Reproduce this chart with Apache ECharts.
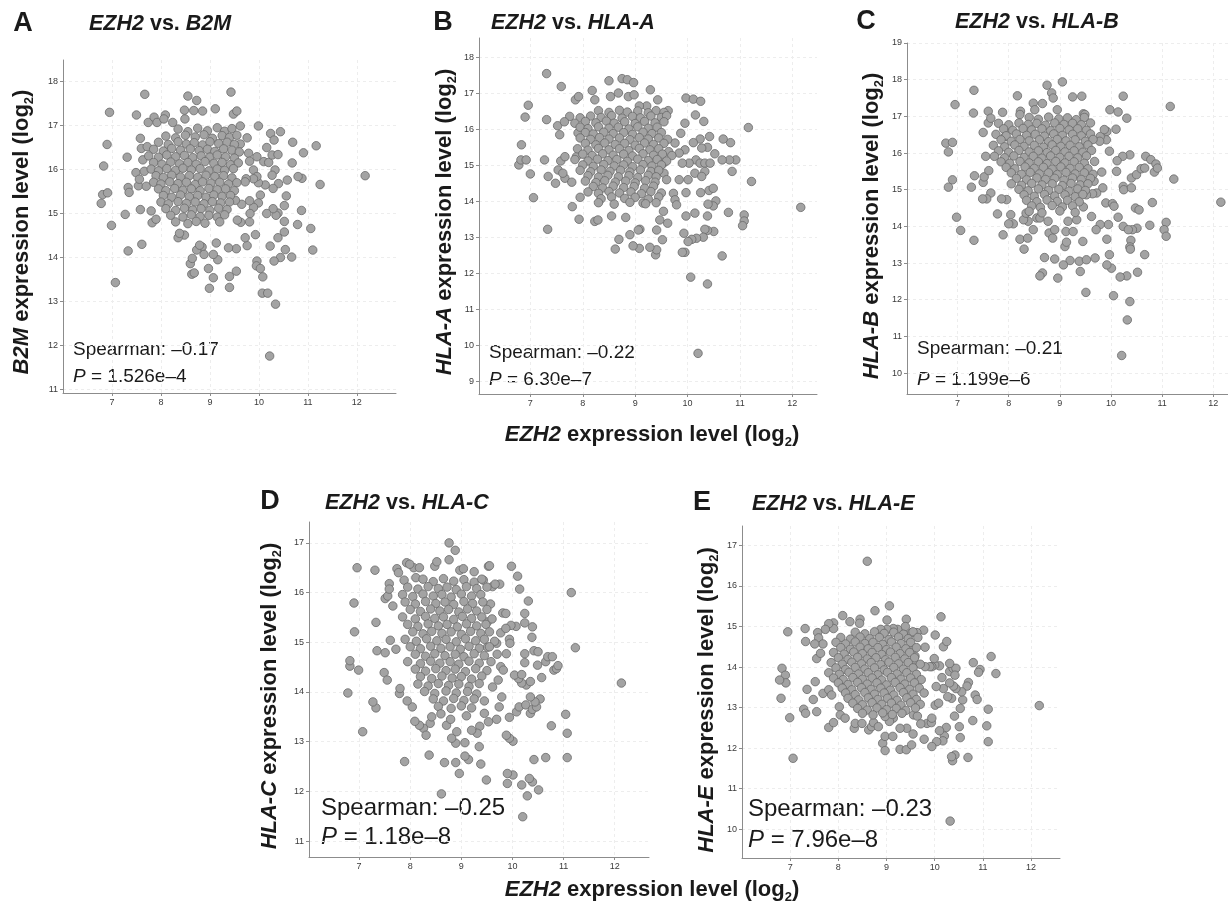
<!DOCTYPE html>
<html>
<head>
<meta charset="utf-8">
<title>EZH2 vs. MHC class I genes</title>
<script src="https://cdn.jsdelivr.net/npm/echarts@6.0.0/dist/echarts.min.js"></script>
<style>
  html, body { margin: 0; padding: 0; background: #fff; }
  #chart { width: 1228px; height: 906px; }
</style>
</head>
<body>
<div id="chart"></div>
<script>
// shared x ticks (EZH2 expression, log2)
const ezh2Ticks = [7, 8, 9, 10, 11, 12];
const panelLetters = ['A', 'B', 'C', 'D', 'E'];
const genes = ['B2M', 'HLA-A', 'HLA-B', 'HLA-C', 'HLA-E'];
const spearman = ['–0.17', '–0.22', '–0.21', '–0.25', '–0.23'];
const pValues = ['1.526e–4', '6.30e–7', '1.199e–6', '1.18e–8', '7.96e–8'];
const yTicksA = [11, 12, 13, 14, 15, 16, 17, 18];
const yTicksB = [9, 10, 11, 12, 13, 14, 15, 16, 17, 18];
const yTicksC = [10, 11, 12, 13, 14, 15, 16, 17, 18, 19];
const yTicksD = [11, 12, 13, 14, 15, 16, 17];
const yTicksE = [10, 11, 12, 13, 14, 15, 16, 17];

// [EZH2, gene] pairs
const b2m = [
  [12.17,15.86],[11.25,15.66],[11.17,16.54],[10.91,16.38],[10.69,16.62],[10.68,16.15],[10.88,15.80],[10.80,15.84],[10.87,15.07],[10.79,14.75],
  [11.06,14.66],[11.10,14.17],[10.67,14.01],[10.44,16.86],[10.24,16.82],[10.31,16.67],[9.99,16.99],[10.58,15.76],[10.56,15.40],[10.52,15.18],
  [10.52,14.82],[10.52,14.58],[10.54,14.18],[10.39,14.45],[10.44,14.00],[10.31,13.92],[10.39,15.01],[10.35,14.96],[10.29,15.11],[10.16,15.00],
  [10.23,14.26],[9.96,13.92],[9.95,13.81],[10.03,13.75],[10.08,13.56],[10.07,13.19],[10.18,13.19],[10.34,12.94],[10.22,11.76],[9.93,14.52],
  [9.81,14.81],[9.76,14.27],[9.72,14.45],[9.63,14.80],[9.54,14.20],[9.38,14.22],[9.54,13.69],[9.40,13.57],[9.40,13.32],[9.07,13.54],
  [8.99,13.30],[8.97,13.75],[9.16,13.95],[9.07,14.07],[9.13,14.33],[8.84,14.24],[8.88,14.07],[8.63,13.62],[8.68,13.65],[8.60,13.86],
  [8.64,13.98],[8.73,14.17],[8.79,14.28],[8.48,14.51],[8.35,14.45],[8.38,14.55],[7.82,14.79],[7.90,14.87],[7.80,15.06],[7.58,15.09],
  [7.61,14.30],[7.33,14.15],[7.27,14.98],[6.99,14.73],[7.07,13.43],[6.78,15.23],[6.81,15.43],[6.91,15.47],[6.83,16.08],[6.90,16.57],
  [6.95,17.30],[7.33,15.59],[7.35,15.48],[7.31,16.28],[7.50,17.24],[7.49,15.93],[7.54,15.63],[7.58,16.71],[7.67,17.71],[7.74,17.07],
  [7.86,17.19],[7.92,17.07],[8.09,17.24],[8.06,17.15],[8.24,17.07],[8.48,17.35],[8.49,17.15],[8.55,17.67],[8.67,17.34],[8.73,17.57],
  [8.85,17.33],[9.11,17.38],[9.43,17.76],[9.48,17.26],[9.55,17.33],[9.62,16.99],[9.76,16.72],[9.62,16.58],[9.79,16.37],[9.81,16.19],
  [9.96,16.29],[9.89,15.99],[10.10,16.18],[10.20,16.16],[10.16,16.50],[10.27,16.33],[10.39,16.34],[10.33,15.99],[10.27,15.87],[10.40,15.68],
  [10.29,15.57],[10.13,15.65],[9.99,15.70],[10.03,15.42],[9.99,15.24],[9.89,15.14],[9.96,15.84],[9.89,15.79],[9.74,15.79],[9.72,15.72],
  [9.81,15.29],[9.82,15.00],[9.65,15.21],[9.52,15.30],[9.56,14.85],[7.60,16.48],[7.63,16.22],[7.66,15.96],[7.56,15.78],[7.72,16.52],[7.70,15.62],
  [8.35,16.92],[8.55,16.86],[8.75,16.94],[8.95,16.88],[9.15,16.95],[9.30,16.87],[9.45,16.93],
  [8.10,16.76],[8.30,16.72],[8.50,16.78],[8.70,16.74],[8.88,16.79],[9.05,16.71],[9.25,16.77],[9.40,16.73],[9.55,16.78],
  [7.95,16.62],[8.15,16.57],[8.35,16.63],[8.52,16.58],[8.68,16.61],[8.85,16.56],[9.00,16.63],[9.18,16.59],[9.35,16.62],[9.50,16.57],
  [7.85,16.46],[8.05,16.42],[8.22,16.48],[8.40,16.44],[8.60,16.47],[8.78,16.43],[8.95,16.46],[9.10,16.41],[9.28,16.47],[9.45,16.44],[9.60,16.40],
  [7.75,16.31],[7.95,16.28],[8.12,16.33],[8.30,16.29],[8.48,16.32],[8.65,16.27],[8.82,16.31],[9.00,16.28],[9.15,16.33],[9.32,16.29],[9.50,16.26],
  [7.85,16.16],[8.02,16.12],[8.20,16.17],[8.38,16.13],[8.55,16.16],[8.72,16.12],[8.90,16.18],[9.08,16.14],[9.25,16.16],[9.42,16.11],[9.58,16.15],
  [7.80,16.01],[7.95,15.97],[8.12,16.02],[8.30,15.98],[8.45,16.03],[8.62,15.99],[8.80,16.02],[8.98,15.97],[9.15,16.01],[9.30,15.98],[9.48,16.02],
  [7.90,15.86],[8.05,15.82],[8.22,15.87],[8.40,15.83],[8.58,15.86],[8.75,15.82],[8.92,15.87],[9.10,15.84],[9.28,15.86],[9.45,15.81],
  [7.85,15.71],[8.00,15.67],[8.18,15.72],[8.35,15.68],[8.52,15.71],[8.70,15.66],[8.85,15.72],[9.02,15.69],[9.20,15.71],[9.38,15.67],[9.55,15.70],
  [7.95,15.56],[8.10,15.52],[8.28,15.57],[8.45,15.53],[8.62,15.56],[8.80,15.52],[8.98,15.57],[9.15,15.54],[9.32,15.56],[9.50,15.52],
  [8.05,15.41],[8.22,15.37],[8.40,15.42],[8.58,15.38],[8.75,15.41],[8.92,15.37],[9.08,15.42],[9.25,15.39],[9.42,15.41],
  [8.00,15.26],[8.15,15.22],[8.35,15.27],[8.52,15.23],[8.70,15.26],[8.88,15.22],[9.05,15.27],[9.22,15.24],[9.40,15.26],
  [8.10,15.11],[8.30,15.07],[8.48,15.12],[8.65,15.08],[8.82,15.11],[9.00,15.07],[9.18,15.12],[9.35,15.09],
  [8.20,14.96],[8.45,14.92],[8.62,14.97],[8.80,14.93],[8.98,14.96],[9.15,14.92],[9.30,14.97],
  [8.30,14.81],[8.55,14.77],[8.72,14.82],[8.90,14.78],[9.20,14.81]
];

const hlaA = [
  [12.16,13.83],[11.16,16.05],[11.22,14.55],[11.08,13.62],[11.08,13.45],[11.05,13.32],[10.92,15.15],[10.85,14.83],[10.80,15.15],[10.82,15.63],
  [10.68,15.73],[10.66,15.15],[10.52,15.32],[10.78,13.69],[10.66,12.48],[10.54,14.01],[10.49,13.87],[10.50,13.16],[10.38,13.19],[10.33,13.22],
  [10.38,13.59],[10.39,13.92],[10.41,14.30],[10.49,14.36],[10.25,14.24],[10.30,13.00],[10.17,12.97],[10.08,12.94],[10.01,12.88],[9.95,12.58],
  [9.90,12.58],[10.06,11.89],[10.38,11.70],[10.20,9.77],[10.14,13.67],[9.97,13.59],[9.93,13.11],[9.97,14.24],[10.01,14.60],[9.84,14.60],
  [9.73,14.22],[9.76,14.04],[9.79,13.90],[9.62,13.39],[9.52,12.93],[9.54,13.72],[9.47,13.48],[9.41,13.20],[9.39,12.51],[9.41,12.65],
  [9.28,12.72],[9.09,13.22],[9.06,13.20],[9.15,13.95],[9.08,12.69],[8.96,12.76],[8.90,13.07],[8.69,12.94],[8.62,12.67],[8.82,13.55],
  [8.55,13.59],[8.23,13.44],[8.29,13.48],[7.93,13.50],[7.80,13.85],[7.33,13.22],[7.06,14.10],[7.00,14.76],[6.78,15.01],[6.82,15.15],
  [6.92,15.15],[6.83,15.57],[6.90,16.34],[6.96,16.67],[7.27,15.15],[7.34,14.69],[7.31,16.27],[7.31,17.55],[7.59,17.19],[7.48,14.50],
  [7.53,14.87],[7.58,15.12],[7.66,15.24],[7.56,15.85],[7.52,16.10],[7.66,14.64],[7.62,14.78],[7.79,14.53],[7.91,15.90],[7.88,15.24],
  [7.86,16.82],[7.92,16.91],[8.18,17.08],[8.23,16.82],[8.50,17.35],[8.53,16.91],[8.68,17.01],[8.75,17.41],[8.85,17.38],[8.97,17.30],
  [8.87,16.91],[8.98,16.96],[9.29,17.10],[9.43,16.82],[9.22,16.65],[9.08,16.65],[9.63,16.52],[9.97,16.87],[10.11,16.84],[10.25,16.78],
  [10.15,16.40],[10.31,16.22],[9.95,16.17],[10.24,15.73],[10.42,15.80],[10.38,15.50],[10.27,15.48],[10.11,15.63],[9.95,15.43],[10.16,15.15],
  [10.24,15.06],[10.33,15.06],[10.43,15.06],[10.14,14.78],[10.33,14.83],[10.27,14.69],[10.03,15.06],[9.90,15.06],[9.84,15.34],[9.76,15.62],
  [9.87,15.89],[9.64,15.38],[9.54,15.06],[9.55,14.78],[9.60,14.60],
  [8.30,16.52],[8.50,16.47],[8.70,16.53],[8.85,16.48],[9.05,16.51],[9.25,16.46],[9.40,16.52],[9.55,16.47],
  [7.75,16.36],[7.95,16.32],[8.15,16.37],[8.35,16.33],[8.55,16.38],[8.75,16.31],[8.95,16.36],[9.10,16.32],[9.30,16.37],[9.50,16.33],[9.60,16.38],
  [7.65,16.21],[7.85,16.17],[8.05,16.22],[8.25,16.18],[8.45,16.23],[8.60,16.17],[8.80,16.21],[9.00,16.16],[9.18,16.22],[9.38,16.18],[9.55,16.21],
  [7.95,16.06],[8.10,16.02],[8.30,16.07],[8.50,16.03],[8.68,16.06],[8.88,16.01],[9.05,16.07],[9.25,16.03],[9.42,16.06],
  [8.05,15.91],[8.20,15.87],[8.40,15.92],[8.58,15.88],[8.78,15.91],[8.95,15.86],[9.15,15.92],[9.32,15.88],[9.50,15.91],
  [7.95,15.76],[8.15,15.72],[8.32,15.77],[8.50,15.73],[8.70,15.76],[8.90,15.71],[9.08,15.77],[9.25,15.73],[9.45,15.76],[9.62,15.72],
  [8.05,15.61],[8.25,15.57],[8.42,15.62],[8.62,15.58],[8.80,15.61],[9.00,15.56],[9.18,15.62],[9.35,15.58],[9.55,15.61],
  [7.90,15.46],[8.10,15.42],[8.30,15.47],[8.50,15.43],[8.70,15.46],[8.88,15.41],[9.08,15.47],[9.28,15.43],[9.45,15.46],
  [8.00,15.31],[8.18,15.27],[8.38,15.32],[8.58,15.28],[8.78,15.31],[8.95,15.26],[9.15,15.32],[9.35,15.28],[9.52,15.31],[9.70,15.27],
  [7.85,15.16],[8.10,15.12],[8.28,15.17],[8.48,15.13],[8.65,15.16],[8.85,15.11],[9.05,15.17],[9.25,15.13],[9.42,15.16],[9.60,15.12],
  [8.00,15.01],[8.20,14.97],[8.40,15.02],[8.60,14.98],[8.78,15.01],[8.95,14.96],[9.15,15.02],[9.32,14.98],[9.50,15.01],
  [7.95,14.86],[8.15,14.82],[8.35,14.87],[8.52,14.83],[8.72,14.86],[8.90,14.81],[9.10,14.87],[9.30,14.83],[9.45,14.86],
  [8.10,14.71],[8.30,14.67],[8.48,14.72],[8.68,14.68],[8.88,14.71],[9.05,14.66],[9.25,14.72],[9.40,14.68],
  [8.05,14.56],[8.25,14.52],[8.42,14.57],[8.62,14.53],[8.82,14.56],[9.00,14.51],[9.20,14.57],[9.38,14.53],
  [8.20,14.41],[8.38,14.37],[8.58,14.42],[8.78,14.38],[8.98,14.41],[9.18,14.36],[9.35,14.42],
  [8.10,14.26],[8.30,14.22],[8.50,14.27],[8.70,14.23],[8.92,14.26],[9.12,14.21],[9.30,14.27],[9.50,14.23],
  [7.95,14.11],[8.35,14.07],[8.55,14.12],[8.80,14.08],[9.00,14.11],[9.25,14.06],[9.45,14.12],
  [8.30,13.96],[8.60,13.92],[8.90,13.97],[9.20,13.93],[9.40,13.96]
];

const hlaB = [
  [12.15,14.66],[11.16,17.27],[11.23,15.29],[11.08,14.11],[11.04,13.91],[11.08,13.73],[10.81,14.65],[10.76,14.03],[10.66,13.23],[10.52,12.75],
  [10.51,13.95],[10.48,14.50],[10.55,14.45],[10.42,13.91],[10.39,13.62],[10.37,13.44],[10.38,13.38],[10.37,11.95],[10.32,11.45],[10.21,10.48],
  [10.31,12.65],[10.18,12.62],[10.05,12.11],[10.01,12.86],[9.92,12.95],[9.97,13.23],[9.92,13.65],[9.95,14.05],[9.79,14.05],[9.71,13.91],
  [9.90,14.64],[10.03,14.62],[10.06,14.55],[10.14,14.25],[10.24,14.00],[10.34,13.91],[10.24,15.09],[10.25,15.00],[10.40,15.05],[10.40,15.32],
  [10.50,15.41],[10.59,15.57],[10.66,15.59],[10.68,15.91],[10.78,15.82],[10.88,15.70],[10.85,15.48],[10.91,15.59],[10.37,15.95],[10.23,15.91],
  [10.12,15.79],[10.11,15.50],[9.97,16.05],[9.98,17.18],[10.14,17.12],[10.24,17.55],[10.31,16.95],[10.10,16.65],[9.92,16.59],[9.91,16.36],
  [9.79,16.45],[9.87,16.64],[9.78,16.32],[9.82,15.48],[9.84,15.05],[9.67,15.23],[9.72,14.91],[9.64,14.89],[9.52,14.86],[9.62,14.27],
  [9.46,14.53],[9.45,13.59],[9.38,13.05],[9.52,13.09],[9.69,13.14],[9.40,12.77],[9.51,12.20],[9.20,13.07],[9.10,13.45],[9.13,13.57],
  [9.07,12.95],[8.90,13.11],[8.96,12.59],[8.70,13.15],[8.66,12.73],[8.61,12.65],[8.55,14.23],[8.61,14.23],[8.79,13.82],[8.86,13.68],
  [8.77,14.14],[8.90,13.91],[9.12,13.86],[9.16,14.14],[9.33,14.18],[9.26,13.86],[8.48,13.91],[8.38,14.14],[8.29,14.18],[8.34,14.36],
  [8.30,13.38],[8.22,13.65],[8.37,13.68],[7.89,13.77],[8.09,14.07],[8.00,14.07],[8.04,14.32],[7.78,14.34],[7.96,14.73],[7.86,14.75],
  [7.65,14.91],[7.57,14.75],[7.49,14.75],[7.50,15.20],[7.52,15.35],[7.61,15.52],[7.55,15.91],[7.50,16.56],[7.60,16.82],[7.60,17.14],
  [7.65,16.95],[7.33,15.38],[7.27,15.07],[7.32,13.62],[7.06,13.89],[6.98,14.25],[6.90,15.27],[6.82,15.07],[6.82,16.03],[6.77,16.27],
  [6.90,16.29],[6.95,17.32],[7.32,17.71],[7.31,17.09],[7.88,17.11],[8.17,17.56],[8.23,17.14],[8.22,17.05],[8.48,17.36],[8.51,17.18],
  [8.66,17.35],[8.75,17.85],[8.84,17.64],[8.87,17.50],[9.05,17.94],[9.25,17.53],[9.43,17.55],[8.95,17.18],[9.46,17.07],[9.49,17.05],
  [7.93,16.45],[7.96,16.68],
  [8.40,16.97],[8.58,16.92],[8.78,16.98],[8.98,16.93],[9.15,16.96],[9.32,16.91],[9.48,16.97],
  [7.80,16.81],[8.00,16.77],[8.20,16.82],[8.38,16.78],[8.55,16.81],[8.72,16.76],[8.90,16.82],[9.08,16.78],[9.25,16.81],[9.42,16.77],[9.60,16.82],
  [7.90,16.66],[8.08,16.62],[8.28,16.67],[8.45,16.63],[8.65,16.66],[8.82,16.61],[9.00,16.67],[9.18,16.63],[9.35,16.66],[9.52,16.62],
  [7.75,16.51],[7.95,16.47],[8.15,16.52],[8.35,16.48],[8.52,16.51],[8.70,16.46],[8.88,16.52],[9.05,16.48],[9.25,16.51],[9.42,16.47],[9.60,16.52],
  [7.85,16.36],[8.05,16.32],[8.22,16.37],[8.40,16.33],[8.60,16.36],[8.78,16.31],[8.95,16.37],[9.12,16.33],[9.30,16.36],[9.50,16.32],[9.65,16.37],
  [7.70,16.21],[7.92,16.17],[8.12,16.22],[8.30,16.18],[8.50,16.21],[8.68,16.16],[8.85,16.22],[9.02,16.18],[9.20,16.21],[9.38,16.17],[9.55,16.22],
  [7.80,16.06],[8.00,16.02],[8.20,16.07],[8.40,16.03],[8.58,16.06],[8.75,16.01],[8.92,16.07],[9.10,16.03],[9.28,16.06],[9.45,16.02],[9.62,16.07],
  [7.72,15.91],[7.92,15.87],[8.10,15.92],[8.30,15.88],[8.48,15.91],[8.65,15.86],[8.82,15.92],[9.00,15.88],[9.18,15.91],[9.35,15.87],[9.52,15.92],
  [7.85,15.76],[8.02,15.72],[8.22,15.77],[8.40,15.73],[8.58,15.76],[8.75,15.71],[8.92,15.77],[9.10,15.73],[9.28,15.76],[9.48,15.72],[9.68,15.77],
  [7.95,15.61],[8.12,15.57],[8.32,15.62],[8.50,15.58],[8.68,15.61],[8.85,15.56],[9.02,15.62],[9.20,15.58],[9.38,15.61],[9.55,15.57],
  [8.05,15.46],[8.25,15.42],[8.42,15.47],[8.60,15.43],[8.78,15.46],[8.95,15.41],[9.12,15.47],[9.30,15.43],[9.48,15.46],[9.65,15.42],
  [8.15,15.31],[8.35,15.27],[8.55,15.32],[8.72,15.28],[8.90,15.31],[9.08,15.26],[9.25,15.32],[9.42,15.28],[9.60,15.31],
  [8.05,15.16],[8.25,15.12],[8.45,15.17],[8.65,15.13],[8.85,15.16],[9.05,15.11],[9.22,15.17],[9.40,15.13],[9.55,15.16],
  [8.20,15.01],[8.38,14.97],[8.58,15.02],[8.78,14.98],[8.98,15.01],[9.18,14.96],[9.35,15.02],[9.50,14.98],
  [8.30,14.86],[8.50,14.82],[8.70,14.87],[8.90,14.83],[9.10,14.86],[9.30,14.81],[9.45,14.87],
  [8.35,14.71],[8.55,14.67],[8.75,14.72],[8.95,14.68],[9.15,14.71],[9.38,14.67],
  [8.45,14.56],[8.62,14.52],[8.85,14.57],[9.05,14.53],[9.25,14.56],
  [8.40,14.41],[8.65,14.37],[9.00,14.42],[9.30,14.38]
];

const hlaC = [
  [12.13,14.18],[11.15,16.00],[11.23,14.89],[11.04,13.55],[11.07,13.17],[11.07,12.68],[10.76,13.32],[10.65,12.68],[10.42,12.64],[10.51,12.03],
  [10.39,12.19],[10.33,12.26],[10.29,11.91],[10.20,11.49],[10.18,12.13],[10.01,12.33],[9.90,12.36],[9.90,12.16],[9.49,12.23],[9.38,12.55],
  [9.35,12.90],[9.14,12.64],[9.07,12.71],[8.96,12.36],[8.89,12.58],[8.67,12.58],[8.61,11.95],[8.37,12.73],[7.89,12.60],[9.07,12.98],
  [8.89,12.97],[8.81,13.07],[8.91,13.20],[10.01,13.01],[9.94,13.07],[9.88,13.13],[9.94,13.49],[10.08,13.60],[10.13,13.70],[10.26,13.74],
  [10.35,13.57],[10.39,13.65],[10.47,13.70],[10.54,13.86],[10.44,13.80],[10.35,13.90],[10.27,14.14],[10.35,14.21],[10.18,14.18],[10.12,14.27],
  [10.04,14.34],[10.18,14.35],[10.57,14.29],[10.49,14.54],[10.65,14.61],[10.69,14.71],[10.78,14.71],[10.81,14.44],[10.86,14.47],[10.89,14.53],
  [10.42,14.83],[10.50,14.81],[10.24,14.77],[10.24,14.59],[10.38,15.10],[10.39,15.31],[10.24,15.39],[10.24,15.58],[10.31,15.83],[10.07,15.32],
  [9.97,15.34],[9.94,15.06],[9.95,14.98],[9.88,14.77],[9.77,15.19],[9.87,15.28],[9.81,15.59],[9.87,15.58],[10.14,16.07],[10.10,16.33],
  [9.98,16.53],[9.75,16.17],[9.61,16.12],[9.53,16.53],[9.57,15.77],[9.51,15.41],[9.69,14.98],[9.51,14.90],[9.77,14.51],[9.82,14.44],
  [9.72,14.24],[9.61,14.10],[9.79,13.90],[9.74,13.70],[9.69,13.45],[9.53,13.40],[9.45,13.57],[9.36,13.31],[9.31,13.17],[9.20,13.23],
  [8.39,13.37],[8.42,13.50],[8.26,13.27],[8.31,13.13],[8.18,13.33],[8.09,13.41],[8.71,13.33],[8.79,13.45],[8.04,13.70],[7.94,13.82],
  [7.79,13.97],[7.80,14.07],[7.33,13.68],[7.27,13.80],[7.07,13.20],[6.78,13.98],[6.99,14.44],[6.82,14.52],[6.82,14.63],[6.91,15.21],
  [6.90,15.79],[6.96,16.50],[7.31,16.45],[7.33,15.40],[7.35,14.83],[7.51,14.79],[7.49,14.39],[7.55,14.24],[7.51,15.88],[7.56,15.93],
  [7.59,16.18],[7.59,16.07],[7.66,15.73],[7.61,15.04],[7.72,14.86],[7.74,16.48],[7.77,16.40],[7.88,16.25],[7.93,16.60],[8.07,16.50],
  [7.99,16.57],[8.18,16.50],[8.11,16.30],[8.48,16.53],[8.52,16.62],[8.76,17.00],[8.76,16.66],[8.88,16.85],[8.97,16.45],[9.04,16.48],
  [9.25,16.42],[9.55,16.54],[9.66,16.17],[9.43,16.25],
  [8.25,16.27],[8.45,16.22],[8.65,16.28],[8.85,16.23],[9.05,16.26],[9.25,16.21],[9.40,16.27],
  [7.95,16.11],[8.15,16.07],[8.35,16.12],[8.55,16.08],[8.72,16.11],[8.90,16.06],[9.10,16.12],[9.30,16.08],[9.50,16.11],
  [7.85,15.96],[8.05,15.92],[8.25,15.97],[8.45,15.93],[8.62,15.96],[8.80,15.91],[9.00,15.97],[9.20,15.93],[9.38,15.96],
  [7.90,15.81],[8.10,15.77],[8.30,15.82],[8.50,15.78],[8.68,15.81],[8.85,15.76],[9.05,15.82],[9.22,15.78],[9.42,15.81],
  [8.00,15.66],[8.20,15.62],[8.40,15.67],[8.58,15.63],[8.75,15.66],[8.95,15.61],[9.12,15.67],[9.30,15.63],[9.50,15.66],
  [7.85,15.51],[8.10,15.47],[8.30,15.52],[8.48,15.48],[8.65,15.51],[8.85,15.46],[9.02,15.52],[9.20,15.48],[9.40,15.51],[9.60,15.47],
  [7.95,15.36],[8.15,15.32],[8.35,15.37],[8.55,15.33],[8.72,15.36],[8.92,15.31],[9.10,15.37],[9.30,15.33],[9.48,15.36],
  [8.05,15.21],[8.25,15.17],[8.42,15.22],[8.62,15.18],[8.80,15.21],[9.00,15.16],[9.18,15.22],[9.38,15.18],[9.55,15.21],
  [7.90,15.06],[8.12,15.02],[8.32,15.07],[8.52,15.03],[8.70,15.06],[8.90,15.01],[9.08,15.07],[9.28,15.03],[9.45,15.06],[9.65,15.02],
  [8.00,14.91],[8.20,14.87],[8.40,14.92],[8.60,14.88],[8.78,14.91],[8.98,14.86],[9.15,14.92],[9.35,14.88],[9.55,14.91],
  [8.10,14.76],[8.30,14.72],[8.48,14.77],[8.68,14.73],[8.88,14.76],[9.05,14.71],[9.25,14.77],[9.45,14.73],[9.70,14.76],
  [7.95,14.61],[8.20,14.57],[8.40,14.62],[8.58,14.58],[8.78,14.61],[8.95,14.56],[9.15,14.62],[9.35,14.58],[9.58,14.61],
  [8.10,14.46],[8.30,14.42],[8.50,14.47],[8.70,14.43],[8.88,14.46],[9.08,14.41],[9.28,14.47],[9.50,14.43],
  [8.20,14.31],[8.42,14.27],[8.62,14.32],[8.82,14.28],[9.00,14.31],[9.20,14.26],[9.40,14.32],
  [8.15,14.16],[8.35,14.12],[8.55,14.17],[8.75,14.13],[8.95,14.16],[9.15,14.11],[9.35,14.17],
  [8.28,14.01],[8.48,13.97],[8.70,14.02],[8.90,13.98],[9.12,14.01],[9.30,13.96],
  [8.45,13.86],[8.65,13.82],[8.85,13.87],[9.05,13.83],[9.25,13.86],[9.45,13.82],
  [8.55,13.71],[8.80,13.67],[9.00,13.72],[9.20,13.68],
  [8.60,13.56],[9.10,13.52]
];

const hlaE = [
  [12.17,13.05],[11.17,14.26],[11.27,13.84],[11.11,12.96],[11.08,12.55],[11.11,12.16],[10.80,14.11],[10.94,13.94],[10.91,13.87],[10.70,13.62],
  [10.67,13.53],[10.84,13.31],[10.88,13.20],[10.79,12.68],[10.69,11.77],[10.42,11.83],[10.37,11.69],[10.35,11.79],[10.32,10.20],[10.24,12.51],
  [10.20,12.30],[10.10,12.43],[10.17,12.18],[10.04,12.16],[9.94,12.04],[9.78,12.22],[9.84,12.61],[9.93,12.63],[9.94,12.74],[10.01,13.06],
  [10.08,13.11],[10.41,12.79],[10.51,12.53],[10.53,12.26],[10.53,12.98],[10.58,13.19],[10.56,13.39],[10.44,13.47],[10.39,13.53],[10.31,13.61],
  [10.35,13.23],[10.27,13.27],[10.31,13.89],[10.38,13.97],[10.44,13.97],[10.42,13.80],[10.31,14.09],[10.15,13.74],[10.18,13.47],[10.03,13.52],
  [10.10,14.03],[10.00,14.05],[9.94,14.01],[9.99,14.21],[9.90,14.01],[9.80,14.01],[9.80,14.49],[9.77,14.91],[10.01,14.79],[10.18,14.50],
  [10.25,14.63],[10.13,15.24],[9.41,15.18],[9.39,15.00],[9.52,14.85],[9.63,14.85],[9.52,14.49],[9.59,14.27],[9.56,14.17],[9.06,15.51],
  [8.76,15.39],[8.60,16.61],[9.01,15.16],[9.23,14.93],[9.14,14.95],[9.01,14.93],[8.88,14.93],[8.09,15.27],[8.24,15.12],[8.45,15.18],
  [8.44,15.08],[7.90,15.09],[7.90,14.95],[7.80,15.07],[7.73,14.93],[7.57,14.85],[7.59,14.72],[7.68,14.57],[7.51,14.57],[7.31,14.95],
  [7.32,14.63],[6.95,14.87],[6.83,13.97],[6.90,13.80],[6.91,13.61],[6.78,13.68],[6.81,13.23],[6.99,12.75],[7.06,11.75],[7.28,12.96],
  [7.32,12.86],[7.35,13.45],[7.48,13.20],[7.55,12.90],[7.52,13.64],[7.55,14.21],[7.63,14.34],[7.68,13.35],[7.80,12.51],[7.90,12.63],
  [7.80,13.44],[7.86,13.31],[8.02,13.02],[8.04,12.82],[8.14,12.74],[8.33,12.49],[8.35,12.61],[8.49,12.61],[8.63,12.45],[8.69,12.53],
  [8.73,12.63],[8.83,12.53],[8.92,12.12],[8.97,11.94],[8.97,12.29],[9.13,12.29],[9.28,11.97],[9.41,11.96],[9.52,12.08],[9.55,12.35],
  [9.42,12.49],[9.28,12.49],[9.14,12.74],[9.56,12.82],[9.64,12.79],[9.71,12.60],[9.06,12.66],[8.97,12.78],
  [8.35,14.86],[8.55,14.82],[8.75,14.87],[8.95,14.83],[9.15,14.86],[9.35,14.81],[9.55,14.87],
  [8.05,14.73],[8.25,14.69],[8.45,14.74],[8.65,14.70],[8.85,14.73],[9.05,14.68],[9.25,14.74],[9.45,14.70],[9.65,14.73],
  [7.95,14.61],[8.15,14.57],[8.35,14.62],[8.55,14.58],[8.72,14.61],[8.92,14.56],[9.10,14.62],[9.30,14.58],[9.50,14.61],
  [8.05,14.48],[8.25,14.44],[8.45,14.49],[8.62,14.45],[8.82,14.48],[9.00,14.43],[9.20,14.49],[9.40,14.45],[9.62,14.48],
  [7.90,14.36],[8.12,14.32],[8.32,14.37],[8.50,14.33],[8.70,14.36],[8.90,14.31],[9.08,14.37],[9.28,14.33],[9.48,14.36],
  [8.00,14.23],[8.20,14.19],[8.40,14.24],[8.60,14.20],[8.78,14.23],[8.98,14.18],[9.18,14.24],[9.38,14.20],[9.58,14.23],
  [7.85,14.11],[8.08,14.07],[8.28,14.12],[8.48,14.08],[8.68,14.11],[8.88,14.06],[9.05,14.12],[9.25,14.08],[9.45,14.11],[9.70,14.07],
  [7.95,13.98],[8.15,13.94],[8.35,13.99],[8.55,13.95],[8.75,13.98],[8.95,13.93],[9.15,13.99],[9.35,13.95],[9.55,13.98],
  [7.80,13.86],[8.02,13.82],[8.22,13.87],[8.42,13.83],[8.62,13.86],[8.82,13.81],[9.02,13.87],[9.22,13.83],[9.42,13.86],[9.62,13.82],
  [7.90,13.73],[8.10,13.69],[8.30,13.74],[8.50,13.70],[8.70,13.73],[8.90,13.68],[9.10,13.74],[9.30,13.70],[9.50,13.73],[9.72,13.69],
  [8.00,13.61],[8.20,13.57],[8.40,13.62],[8.60,13.58],[8.80,13.61],[9.00,13.56],[9.18,13.62],[9.38,13.58],[9.58,13.61],
  [8.08,13.48],[8.28,13.44],[8.48,13.49],[8.68,13.45],[8.88,13.48],[9.08,13.43],[9.28,13.49],[9.48,13.45],[9.68,13.48],
  [8.15,13.36],[8.35,13.32],[8.55,13.37],[8.75,13.33],[8.95,13.36],[9.15,13.31],[9.35,13.37],[9.55,13.33],[9.78,13.36],
  [8.20,13.23],[8.42,13.19],[8.62,13.24],[8.82,13.20],[9.02,13.23],[9.22,13.18],[9.42,13.24],[9.62,13.20],
  [8.30,13.11],[8.50,13.07],[8.70,13.12],[8.90,13.08],[9.10,13.11],[9.30,13.06],[9.50,13.12],[9.70,13.08],
  [8.40,12.98],[8.60,12.94],[8.80,12.99],[9.00,12.95],[9.20,12.98],[9.40,12.93],[9.60,12.99],
  [8.50,12.86],[8.72,12.82],[8.92,12.87],[9.12,12.83],[9.32,12.86]
];

const seriesData = [b2m, hlaA, hlaB, hlaC, hlaE];
const yTicks = [yTicksA, yTicksB, yTicksC, yTicksD, yTicksE];

// page layout, in pixels
const layout = [
  { grid: { left: 63, top: 60, width: 333, height: 333 }, x: [6, 12.8], y: [10.92, 18.49],
    letter: [23, 24], title: [89, 24], yName: [22, 232], stats: [73, 350, 377], statSize: 19 },
  { grid: { left: 479, top: 38, width: 338, height: 356 }, x: [6.02, 12.47], y: [8.64, 18.54],
    letter: [443, 23], title: [491, 23], yName: [445, 222], stats: [489, 353, 380], statSize: 19 },
  { grid: { left: 907, top: 43, width: 321, height: 351 }, x: [6.01, 12.29], y: [9.43, 19],
    letter: [866, 22], title: [955, 22], yName: [872, 226], stats: [917, 349, 380], statSize: 19 },
  { grid: { left: 309, top: 522, width: 340, height: 335 }, x: [6.02, 12.67], y: [10.68, 17.42],
    letter: [270, 502], title: [325, 503], yName: [270, 696], stats: [321, 808, 837], statSize: 24 },
  { grid: { left: 742, top: 526, width: 318, height: 332 }, x: [6.0, 12.6], y: [9.29, 17.48],
    letter: [702, 503], title: [752, 504], yName: [707, 700], stats: [748, 809, 840], statSize: 24 }
];
const xNamePos = [[652, 435], [652, 890]];

const FONT = "'Liberation Sans', Arial, Helvetica, sans-serif";
const INK = '#1a1a1a';

function axisCommon(ticks) {
  return {
    type: 'value',
    axisLine: { show: true, onZero: false, lineStyle: { color: '#8c8c8c', width: 1 } },
    axisTick: { show: true, length: 3, customValues: ticks, lineStyle: { color: '#8c8c8c' } },
    axisLabel: { customValues: ticks, fontSize: 9, color: '#3a3a3a', fontFamily: FONT, margin: 5 },
    splitLine: { show: true, lineStyle: { color: '#ededed', type: [3, 3], width: 1 } }
  };
}

function labelRich(size) {
  return {
    i: { fontStyle: 'italic', fontWeight: 'bold', fontSize: size, fontFamily: FONT, fill: INK, lineHeight: size + 6 },
    n: { fontWeight: 'bold', fontSize: size, fontFamily: FONT, fill: INK, lineHeight: size + 6 },
    s: { fontWeight: 'bold', fontSize: Math.round(size * 0.6), fontFamily: FONT, fill: INK,
         lineHeight: Math.round(size * 0.55), verticalAlign: 'bottom' }
  };
}

const grids = [], xAxes = [], yAxes = [], series = [], graphics = [];

layout.forEach((L, i) => {
  grids.push(Object.assign({ outerBoundsMode: 'none', containLabel: false }, L.grid));
  xAxes.push(Object.assign(axisCommon(ezh2Ticks), { gridIndex: i, min: L.x[0], max: L.x[1] }));
  yAxes.push(Object.assign(axisCommon(yTicks[i]), { gridIndex: i, min: L.y[0], max: L.y[1] }));
  series.push({
    type: 'scatter',
    xAxisIndex: i,
    yAxisIndex: i,
    data: seriesData[i],
    symbol: 'circle',
    symbolSize: 8.5,
    silent: true,
    itemStyle: { color: '#a3a3a3', borderColor: '#6a6a6a', borderWidth: 0.8, opacity: 1 }
  });

  // panel letter
  graphics.push({
    type: 'text', x: L.letter[0], y: L.letter[1],
    style: { text: panelLetters[i], fontSize: 27, fontWeight: 'bold', fontFamily: FONT, fill: INK,
             align: 'center', verticalAlign: 'middle' }
  });
  // panel title
  graphics.push({
    type: 'text', x: L.title[0], y: L.title[1],
    style: { text: '{i|EZH2}{n| vs. }{i|' + genes[i] + '}', rich: labelRich(21.5),
             align: 'left', verticalAlign: 'middle' }
  });
  // y axis name
  graphics.push({
    type: 'text', x: L.yName[0], y: L.yName[1], rotation: Math.PI / 2,
    style: { text: '{i|' + genes[i] + '}{n| expression level (log}{s|2}{n|)}', rich: labelRich(22),
             align: 'center', verticalAlign: 'middle' }
  });
  // Spearman and P value
  const fs = L.statSize;
  graphics.push({
    type: 'text', x: L.stats[0], y: L.stats[1],
    style: { text: 'Spearman: ' + spearman[i], fontSize: fs, fontFamily: FONT, fill: INK,
             align: 'left', verticalAlign: 'middle' }
  });
  graphics.push({
    type: 'text', x: L.stats[0], y: L.stats[2],
    style: {
      text: '{p|P}{t| = ' + pValues[i] + '}',
      rich: {
        p: { fontStyle: 'italic', fontSize: fs, fontFamily: FONT, fill: INK },
        t: { fontSize: fs, fontFamily: FONT, fill: INK }
      },
      align: 'left', verticalAlign: 'middle'
    }
  });
});

// shared x axis names
xNamePos.forEach(p => {
  graphics.push({
    type: 'text', x: p[0], y: p[1],
    style: { text: '{i|EZH2}{n| expression level (log}{s|2}{n|)}', rich: labelRich(22),
             align: 'center', verticalAlign: 'middle' }
  });
});

const chart = echarts.init(document.getElementById('chart'), null, { renderer: 'canvas' });
chart.setOption({
  animation: false,
  backgroundColor: '#ffffff',
  grid: grids,
  xAxis: xAxes,
  yAxis: yAxes,
  series: series,
  graphic: graphics
});
</script>
</body>
</html>
